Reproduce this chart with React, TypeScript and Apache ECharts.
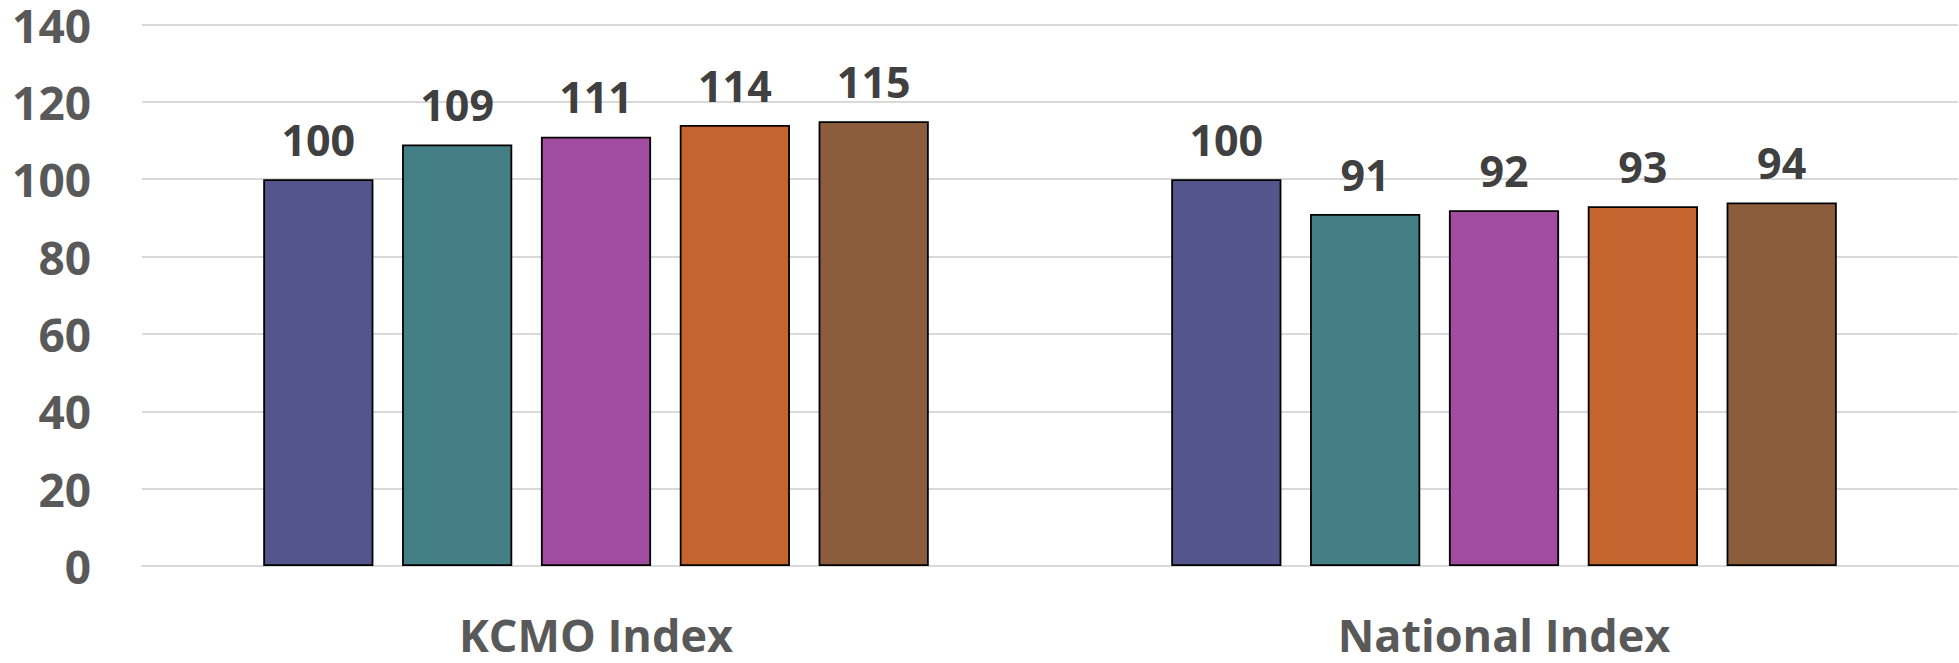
import React, { useEffect, useRef } from "react";
import * as echarts from "echarts";

const categories = ["KCMO Index", "National Index"];
const seriesNames = ["Series 1", "Series 2", "Series 3", "Series 4", "Series 5"];
const seriesValues: number[][] = [
  [100, 100],
  [109, 91],
  [111, 92],
  [114, 93],
  [115, 94],
];
const seriesColors = ["#54558A", "#437F85", "#A04D9F", "#C4652F", "#8B5D3C"];
const yTicks = { min: 0, max: 140, interval: 20 };

export default function App() {
  const ref = useRef<HTMLDivElement>(null);
  useEffect(() => {
    if (!ref.current) return;
    const chart = echarts.init(ref.current, null, { renderer: "svg" });
    const font = "'Open Sans', 'Noto Sans', sans-serif";
    chart.setOption({
      animation: false,
      backgroundColor: "#ffffff",
      grid: { left: 142, right: 1, top: 24.5, bottom: 97, containLabel: false },
      xAxis: {
        type: "category",
        data: categories,
        axisTick: { show: false },
        axisLine: { show: true, lineStyle: { color: "#D9D9D9", width: 2 } },
        axisLabel: {
          color: "#595959",
          fontFamily: font,
          fontWeight: "bold",
          fontSize: 45,
          lineHeight: 46,
          margin: 45,
        },
      },
      yAxis: {
        type: "value",
        min: yTicks.min,
        max: yTicks.max,
        interval: yTicks.interval,
        axisLine: { show: false },
        axisTick: { show: false },
        splitLine: { lineStyle: { color: "#D9D9D9", width: 2 } },
        axisLabel: {
          color: "#595959",
          fontFamily: font,
          fontWeight: "bold",
          fontSize: 46,
          lineHeight: 40,
          margin: 51,
        },
      },
      series: seriesValues.map((vals, i) => ({
        name: seriesNames[i],
        type: "bar",
        data: vals,
        barGap: "26%",
        barCategoryGap: "26.7%",
        itemStyle: { color: seriesColors[i], borderColor: "#000000", borderWidth: 1.8 },
        label: {
          show: true,
          position: "top",
          distance: 19,
          color: "#404040",
          fontFamily: font,
          fontWeight: "bold",
          fontSize: 43,
          lineHeight: 42,
        },
      })),
    });
    return () => chart.dispose();
  }, []);
  return (
    <div
      ref={ref}
      style={{ position: "fixed", left: 0, top: 0, width: 1959, height: 663 }}
    />
  );
}
